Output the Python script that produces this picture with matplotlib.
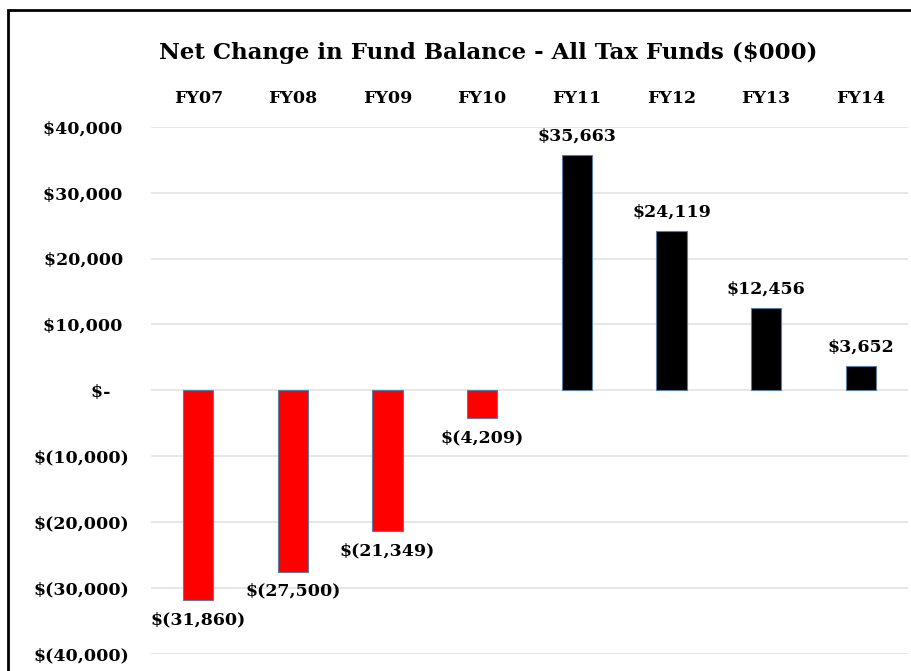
import matplotlib
matplotlib.use("Agg")
import matplotlib.pyplot as plt
from matplotlib.patches import Rectangle

categories = ["FY07", "FY08", "FY09", "FY10", "FY11", "FY12", "FY13", "FY14"]
values = [-31860, -27500, -21349, -4209, 35663, 24119, 12456, 3652]
yticks = [-40000, -30000, -20000, -10000, 0, 10000, 20000, 30000, 40000]

def money(v):
    if v == 0:
        return "$-"
    if v < 0:
        return "$({:,})".format(-v)
    return "${:,}".format(v)

def tick_money(v):
    # accounting-style alignment: positives leave room for ")"
    if v == 0:
        return "$-   "
    if v < 0:
        return money(v)
    return money(v) + " "

plt.rcParams['font.family'] = ['DejaVu Serif', 'Liberation Serif']
plt.rcParams['font.weight'] = 'bold'

W, H = 912, 671
fig = plt.figure(figsize=(W/100, H/100), dpi=100)
ax = fig.add_axes([151/W, 1-654/H, (908-151)/W, (654-126.7)/H])

x = list(range(len(categories)))
colors = ['#ff0000' if v < 0 else '#000000' for v in values]
ax.bar(x, values, width=0.32, color=colors, edgecolor='#5a7da6', linewidth=0.8, zorder=3)

fs = 12.5
ax.set_xlim(-0.5, len(categories)-0.5)
ax.set_ylim(-40000, 40000)
ax.set_yticks(yticks)
ax.set_yticklabels([tick_money(v) for v in yticks], fontsize=fs, fontweight='bold')
ax.yaxis.grid(True, color='#e3e3e3', linewidth=1.2, zorder=0)
ax.xaxis.tick_top()
ax.set_xticks(x)
ax.set_xticklabels(categories, fontsize=fs, fontweight='bold')
ax.tick_params(axis='both', length=0)
ax.tick_params(axis='x', pad=14)
ax.tick_params(axis='y', pad=16)
for s in ax.spines.values():
    s.set_visible(False)

for xi, v in zip(x, values):
    if v >= 0:
        ax.annotate(money(v), (xi, v), xytext=(0, 8), textcoords='offset points',
                    ha='center', va='bottom', fontsize=fs, fontweight='bold')
    else:
        ax.annotate(money(v), (xi, v), xytext=(0, -8), textcoords='offset points',
                    ha='center', va='top', fontsize=fs, fontweight='bold')

fig.text(488/W, 1-53/H, "Net Change in Fund Balance - All Tax Funds ($000)",
         ha='center', va='center', fontsize=16.5, fontweight='bold')

fig.patches.append(Rectangle((8/W, -0.1), 1.2, 1+0.1-10/H, transform=fig.transFigure,
                             fill=False, edgecolor='black', linewidth=2))

fig.savefig("out.png", dpi=100)
